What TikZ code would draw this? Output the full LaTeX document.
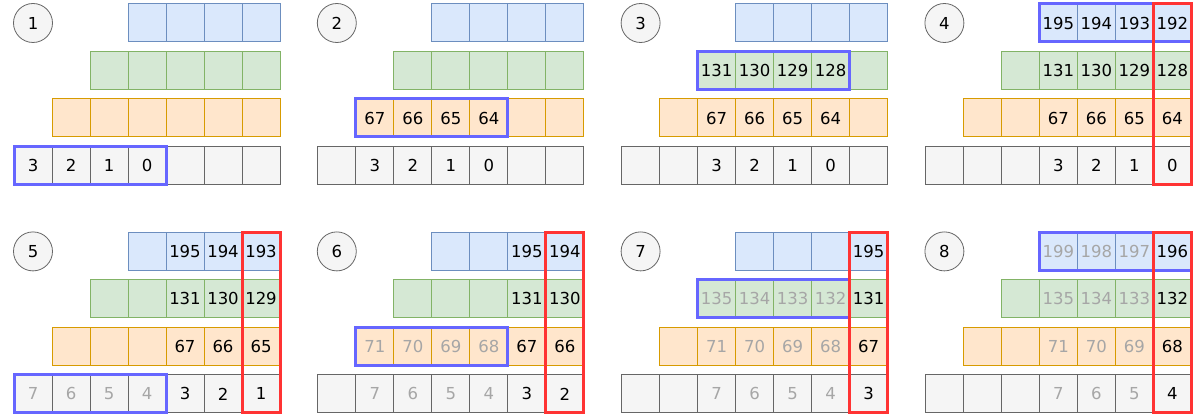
\documentclass[tikz,border=0pt]{standalone}
\usepackage{fontspec}
\setmainfont{DejaVu Sans}
\definecolor{blufill}{HTML}{DAE8FC}\definecolor{bludraw}{HTML}{6C8EBF}
\definecolor{grnfill}{HTML}{D5E8D4}\definecolor{grndraw}{HTML}{82B366}
\definecolor{orgfill}{HTML}{FFE6CC}\definecolor{orgdraw}{HTML}{D79B00}
\definecolor{gryfill}{HTML}{F5F5F5}\definecolor{grydraw}{HTML}{666666}
\definecolor{selblue}{HTML}{6666FF}\definecolor{colred}{HTML}{FF3333}
\definecolor{fadetxt}{HTML}{A6A6A6}
\newcommand{\fd}[1]{\textcolor{fadetxt}{#1}}
% one staircase row of cells: panel, row, style, values
\newcommand{\cellrow}[4]{%
  \foreach \v [count=\i from 0] in {#4} {
    \pgfmathtruncatemacro{\cx}{3-#2+\i}
    \node[cell, #3] (#1r#2c\cx) at ({(\cx+0.5)*38}, {#2*47.5+19}) {\v};
  }}

\begin{document}
\begin{tikzpicture}[x=1pt, y=-1pt, font=\fontsize{16.5}{19}\selectfont,
  cell/.style={draw, line width=1pt, minimum width=38pt, minimum height=38pt, inner sep=0pt, outer sep=0pt},
  blu/.style={fill=blufill, draw=bludraw},
  grn/.style={fill=grnfill, draw=grndraw},
  org/.style={fill=orgfill, draw=orgdraw},
  gry/.style={fill=gryfill, draw=grydraw},
  badge/.style={circle, draw=grydraw, fill=gryfill, line width=0.8pt, minimum size=39pt, inner sep=0pt},
  sel/.style={draw=selblue, line width=3pt},
  colbox/.style={draw=colred, line width=3pt}]
  \useasboundingbox (0,0) rectangle (1196,414);

  % top row
  \begin{scope}[shift={(14,4)}]
    \node[badge] (b1) at (19,19) {1};
    \cellrow{p1}{0}{blu}{,,,}
    \cellrow{p1}{1}{grn}{,,,,}
    \cellrow{p1}{2}{org}{,,,,,}
    \cellrow{p1}{3}{gry}{3,2,1,0,,,}
  \end{scope}
  \begin{scope}[shift={(317.8,4)}]
    \node[badge] (b2) at (19,19) {2};
    \cellrow{p2}{0}{blu}{,,,}
    \cellrow{p2}{1}{grn}{,,,,}
    \cellrow{p2}{2}{org}{67,66,65,64,,}
    \cellrow{p2}{3}{gry}{,3,2,1,0,,}
  \end{scope}
  \begin{scope}[shift={(621.6,4)}]
    \node[badge] (b3) at (19,19) {3};
    \cellrow{p3}{0}{blu}{,,,}
    \cellrow{p3}{1}{grn}{131,130,129,128,}
    \cellrow{p3}{2}{org}{,67,66,65,64,}
    \cellrow{p3}{3}{gry}{,,3,2,1,0,}
  \end{scope}
  \begin{scope}[shift={(925.4,4)}]
    \node[badge] (b4) at (19,19) {4};
    \cellrow{p4}{0}{blu}{195,194,193,192}
    \cellrow{p4}{1}{grn}{,131,130,129,128}
    \cellrow{p4}{2}{org}{,,67,66,65,64}
    \cellrow{p4}{3}{gry}{,,,3,2,1,0}
  \end{scope}

  % bottom row
  \begin{scope}[shift={(14,232.4)}]
    \node[badge] (b5) at (19,19) {5};
    \cellrow{p5}{0}{blu}{,195,194,193}
    \cellrow{p5}{1}{grn}{,,131,130,129}
    \cellrow{p5}{2}{org}{,,,67,66,65}
    \cellrow{p5}{3}{gry}{\fd{7},\fd{6},\fd{5},\fd{4},3,2,1}
  \end{scope}
  \begin{scope}[shift={(317.8,232.4)}]
    \node[badge] (b6) at (19,19) {6};
    \cellrow{p6}{0}{blu}{,,195,194}
    \cellrow{p6}{1}{grn}{,,,131,130}
    \cellrow{p6}{2}{org}{\fd{71},\fd{70},\fd{69},\fd{68},67,66}
    \cellrow{p6}{3}{gry}{,\fd{7},\fd{6},\fd{5},\fd{4},3,2}
  \end{scope}
  \begin{scope}[shift={(621.6,232.4)}]
    \node[badge] (b7) at (19,19) {7};
    \cellrow{p7}{0}{blu}{,,,195}
    \cellrow{p7}{1}{grn}{\fd{135},\fd{134},\fd{133},\fd{132},131}
    \cellrow{p7}{2}{org}{,\fd{71},\fd{70},\fd{69},\fd{68},67}
    \cellrow{p7}{3}{gry}{,,\fd{7},\fd{6},\fd{5},\fd{4},3}
  \end{scope}
  \begin{scope}[shift={(925.4,232.4)}]
    \node[badge] (b8) at (19,19) {8};
    \cellrow{p8}{0}{blu}{\fd{199},\fd{198},\fd{197},196}
    \cellrow{p8}{1}{grn}{,\fd{135},\fd{134},\fd{133},132}
    \cellrow{p8}{2}{org}{,,\fd{71},\fd{70},\fd{69},68}
    \cellrow{p8}{3}{gry}{,,,\fd{7},\fd{6},\fd{5},4}
  \end{scope}

  % selections
  \draw[sel] (p1r3c0.north west) rectangle (p1r3c3.south east);
  \draw[sel] (p2r2c1.north west) rectangle (p2r2c4.south east);
  \draw[sel] (p3r1c2.north west) rectangle (p3r1c5.south east);
  \draw[sel] (p4r0c3.north west) rectangle (p4r0c6.south east);
  \draw[sel] (p5r3c0.north west) rectangle (p5r3c3.south east);
  \draw[sel] (p6r2c1.north west) rectangle (p6r2c4.south east);
  \draw[sel] (p7r1c2.north west) rectangle (p7r1c5.south east);
  \draw[sel] (p8r0c3.north west) rectangle (p8r0c6.south east);
  \foreach \p in {4,...,8}
    \draw[colbox] (p\p r0c6.north west) rectangle (p\p r3c6.south east);
\end{tikzpicture}
\end{document}
